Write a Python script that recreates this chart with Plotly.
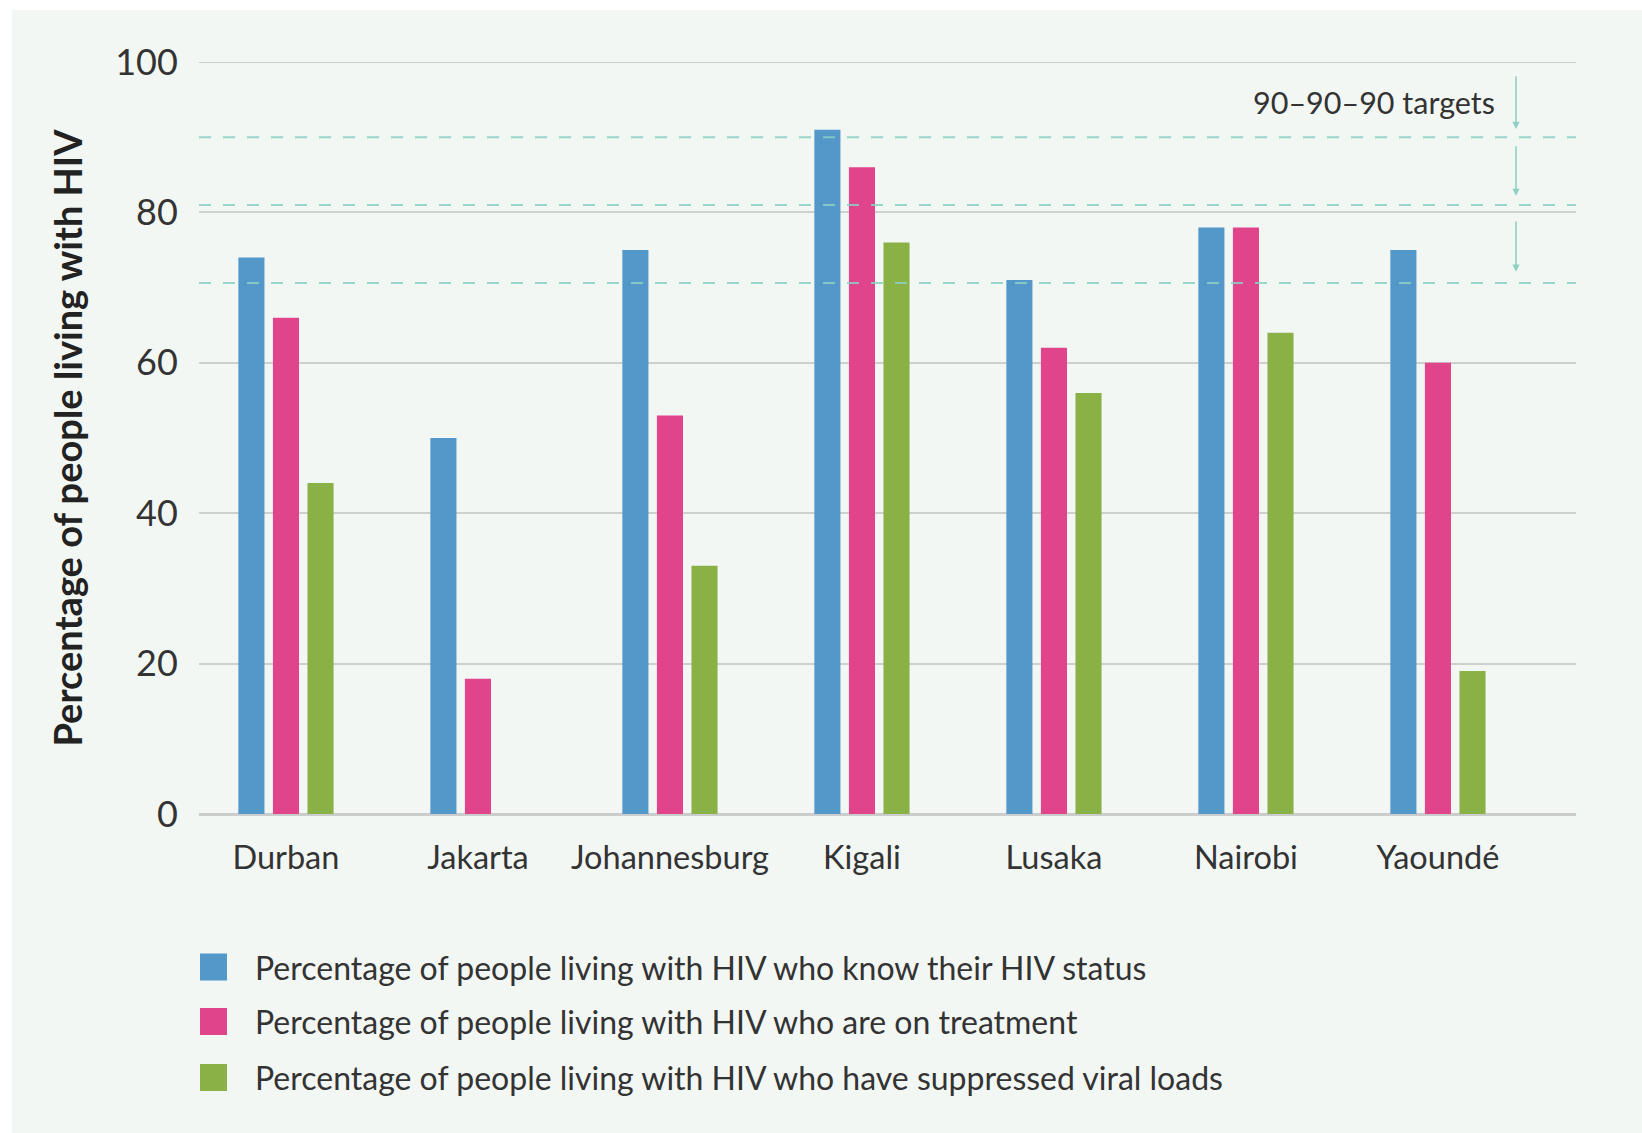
import plotly.graph_objects as go

# ---- data -------------------------------------------------------------
cities = ["Durban", "Jakarta", "Johannesburg", "Kigali", "Lusaka", "Nairobi", "Yaoundé"]
know_status = [74, 50, 75, 91, 71, 78, 75]
on_treatment = [66, 18, 53, 86, 62, 78, 60]
suppressed = [44, None, 33, 76, 56, 64, 19]

series_names = [
    "Percentage of people living with HIV who know their HIV status",
    "Percentage of people living with HIV who are on treatment",
    "Percentage of people living with HIV who have suppressed viral loads",
]
series_colors = ["#5497c9", "#e0448a", "#8ab145"]

target_levels = [90, 81, 70.6]          # dashed target lines
target_arrows = [(98.3, 91.1), (89.0, 82.2), (79.0, 72.1)]  # (tail, tip)
y_ticks = [0, 20, 40, 60, 80, 100]

# ---- layout geometry (pixels) -----------------------------------------
W, H = 1642, 1133
ML, MR, MT, MB = 199, 66, 62, 319
PW, PH = W - ML - MR, H - MT - MB

def px_x(px):
    return (px - ML) / PW

def px_y(py):
    return (H - MB - py) / PH

FONT = "Lato"
TEXT = "#333333"
BG = "#f2f7f4"
GRID = "#cdd0cf"

fig = go.Figure()
for name, vals, col in zip(series_names, [know_status, on_treatment, suppressed], series_colors):
    fig.add_trace(go.Bar(x=cities, y=vals, name=name, marker=dict(color=col, line=dict(width=0)),
                         showlegend=False))

shapes = [
    # light panel behind the chart
    dict(type="rect", xref="paper", yref="paper", x0=px_x(12), x1=px_x(W + 5),
         y0=px_y(H + 5), y1=px_y(10), fillcolor=BG, line=dict(width=0), layer="below"),
    # top gridline sits on the plot edge, draw it explicitly
    dict(type="line", xref="paper", yref="y", x0=0, x1=1, y0=y_ticks[-1], y1=y_ticks[-1],
         line=dict(color=GRID, width=2), layer="below"),
]
for lvl in target_levels:
    shapes.append(dict(type="line", xref="paper", yref="y", x0=0, x1=1, y0=lvl, y1=lvl,
                       line=dict(color="rgba(140,208,195,0.85)", width=2, dash="12px,12px"),
                       layer="above"))

# legend swatches
legend_y = [967, 1021.5, 1077.5]
sw = 27
for col, ly in zip(series_colors, legend_y):
    shapes.append(dict(type="rect", xref="paper", yref="paper",
                       x0=px_x(200), x1=px_x(200 + sw), y0=px_y(ly + sw / 2), y1=px_y(ly - sw / 2),
                       fillcolor=col, line=dict(width=0)))

annotations = []
for name, ly in zip(series_names, legend_y):
    annotations.append(dict(text=name, xref="paper", yref="paper", x=px_x(253), y=px_y(ly),
                            xanchor="left", yanchor="middle", showarrow=False,
                            font=dict(family=FONT, size=32, color=TEXT)))

annotations.append(dict(text="90–90–90 targets", xref="paper", yref="y", x=px_x(1497), y=94.7,
                        xanchor="right", yanchor="middle", showarrow=False,
                        font=dict(family=FONT, size=30.5, color=TEXT)))
for tail, tip in target_arrows:
    annotations.append(dict(text="", xref="paper", yref="y", x=px_x(1516), y=tip,
                            axref="pixel", ayref="y", ax=0, ay=tail,
                            showarrow=True, arrowhead=2, arrowsize=0.9, arrowwidth=1.6,
                            arrowcolor="#8fd0c4", standoff=0, startstandoff=0))

fig.update_layout(
    width=W, height=H,
    margin=dict(l=ML, r=MR, t=MT, b=MB, pad=0),
    paper_bgcolor="white", plot_bgcolor="rgba(0,0,0,0)",
    barmode="group", bargap=0.46, bargroupgap=0.245,
    shapes=shapes, annotations=annotations,
    font=dict(family=FONT, color=TEXT),
)
fig.update_xaxes(type="category", range=[-0.453, 6.719], showgrid=False, zeroline=False,
                 showline=False, ticks="outside", ticklen=15, tickcolor="rgba(0,0,0,0)",
                 tickfont=dict(family=FONT, size=32.5, color=TEXT))
fig.update_yaxes(range=[0, 100], tickvals=y_ticks, showgrid=True, gridcolor=GRID, gridwidth=2,
                 zeroline=True, zerolinecolor="#cacdcc", zerolinewidth=3, showline=False,
                 ticks="outside", ticklen=13, tickcolor="rgba(0,0,0,0)",
                 tickfont=dict(family=FONT, size=36, color=TEXT),
                 title=dict(text="Percentage of people living with HIV", standoff=20,
                            font=dict(family=FONT, size=38, color="#222222", weight="bold")))

fig.write_html("out.html")
